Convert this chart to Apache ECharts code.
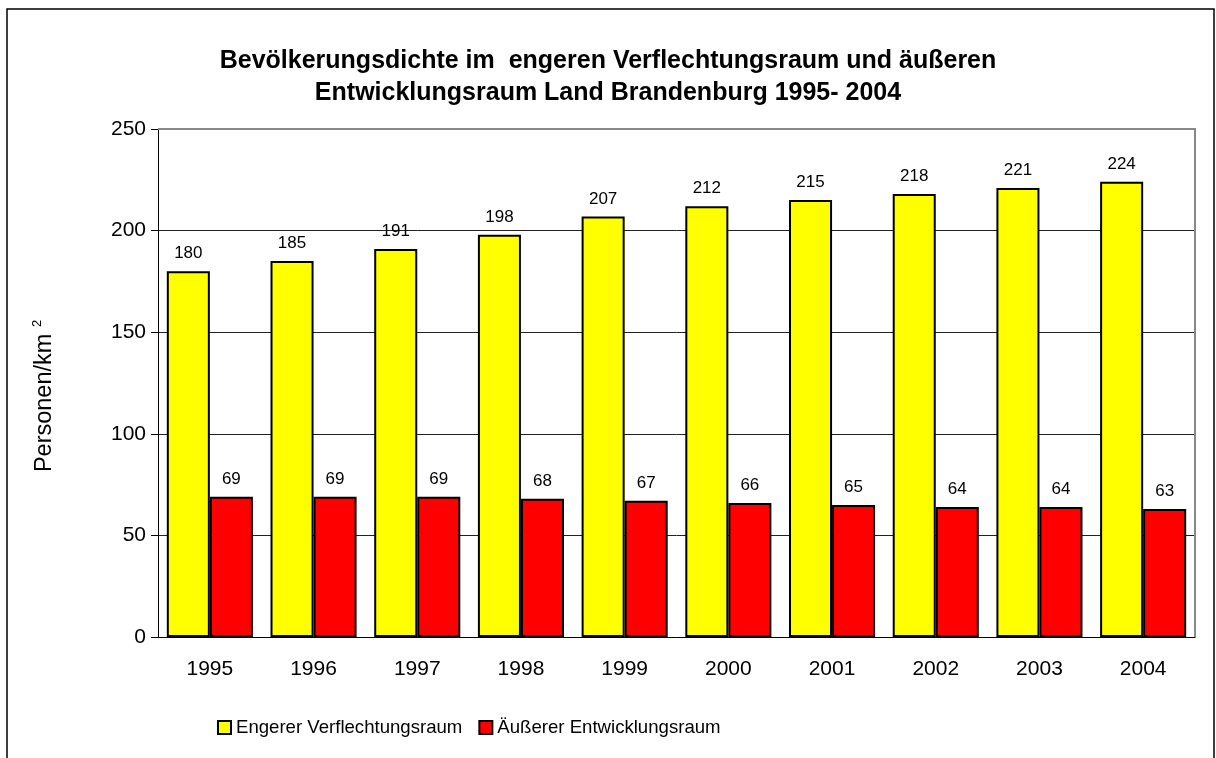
<!DOCTYPE html>
<html>
<head>
    <meta charset="utf-8">
    <title>Bevölkerungsdichte Land Brandenburg</title>
    <script src="https://cdn.jsdelivr.net/npm/echarts@6/dist/echarts.min.js"></script>
    <style>
        html, body { margin: 0; padding: 0; background: #fff; }
        #chart1 { width: 1216px; height: 758px; }
    </style>
</head>
<body>
<div id="chart1"></div>
<script type="text/javascript">
    // Daten
    var jahre = ['1995', '1996', '1997', '1998', '1999', '2000', '2001', '2002', '2003', '2004'];
    var engerer = [180, 185, 191, 198, 207, 212, 215, 218, 221, 224];
    var aeusserer = [69, 69, 69, 68, 67, 66, 65, 64, 64, 63];
    var yTicks = [0, 50, 100, 150, 200, 250];

    var font = 'Liberation Sans, Arial, sans-serif';
    var myChart1 = echarts.init(document.getElementById('chart1'));

    myChart1.setOption({
        animation: false,
        backgroundColor: '#fff',
        textStyle: { fontFamily: font },
        graphic: [
            // äußerer Rahmen
            { type: 'rect', shape: { x: 7, y: 9, width: 1207, height: 780 },
              style: { fill: 'none', stroke: '#000', lineWidth: 1.5 } },
            // Rahmen oben/rechts der Zeichenfläche
            { type: 'polyline', shape: { points: [[158, 129], [1195, 129], [1195, 637]] },
              style: { fill: 'none', stroke: '#888', lineWidth: 2 }, z: 10 }
        ],
        title: {
            text: 'Bevölkerungsdichte im  engeren Verflechtungsraum und äußeren\nEntwicklungsraum Land Brandenburg 1995- 2004',
            left: 'center',
            top: 40,
            textStyle: { fontSize: 25, fontWeight: 'bold', color: '#000', lineHeight: 32, fontFamily: font }
        },
        legend: {
            left: 212,
            top: 713,
            icon: 'rect',
            itemWidth: 13,
            itemHeight: 13,
            itemGap: 16,
            textStyle: { fontSize: 18.6, color: '#000', fontFamily: font },
            data: ['Engerer Verflechtungsraum', 'Äußerer Entwicklungsraum']
        },
        grid: { left: 158, right: 21, top: 129, bottom: 121 },
        xAxis: {
            type: 'category',
            data: jahre,
            axisLine: { lineStyle: { color: '#000', width: 1 } },
            axisTick: { length: 5, lineStyle: { color: '#000' } },
            axisLabel: { fontSize: 21, color: '#000', margin: 22, fontFamily: font }
        },
        yAxis: {
            type: 'value',
            min: yTicks[0],
            max: yTicks[yTicks.length - 1],
            interval: 50,
            name: '{a|Personen/km }{b|2}',
            nameLocation: 'middle',
            nameRotate: 90,
            nameGap: 99,
            nameTextStyle: {
                color: '#000',
                fontFamily: font,
                padding: [0, 26, 0, 0],
                rich: {
                    a: { fontSize: 23.5, color: '#000', fontFamily: font, lineHeight: 28 },
                    b: { fontSize: 13, color: '#000', fontFamily: font, verticalAlign: 'top', lineHeight: 28 }
                }
            },
            axisLine: { show: true, lineStyle: { color: '#000', width: 1 } },
            axisTick: { show: true, length: 7, lineStyle: { color: '#000' } },
            axisLabel: { fontSize: 21, color: '#000', margin: 12, fontFamily: font },
            splitLine: { show: true, lineStyle: { color: '#222', width: 1 } }
        },
        series: [
            {
                name: 'Engerer Verflechtungsraum',
                type: 'bar',
                data: engerer,
                barGap: '0%',
                barCategoryGap: '17%',
                itemStyle: { color: '#ffff00', borderColor: '#000', borderWidth: 2 },
                label: { show: true, position: 'top', distance: 9, fontSize: 17, color: '#000', fontFamily: font }
            },
            {
                name: 'Äußerer Entwicklungsraum',
                type: 'bar',
                data: aeusserer,
                itemStyle: { color: '#ff0000', borderColor: '#000', borderWidth: 2 },
                label: { show: true, position: 'top', distance: 9, fontSize: 17, color: '#000', fontFamily: font }
            }
        ]
    });
</script>
</body>
</html>
